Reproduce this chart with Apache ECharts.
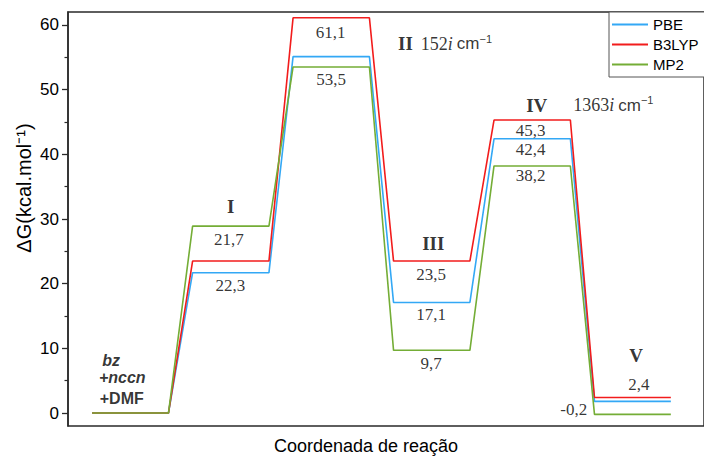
<!DOCTYPE html>
<html>
<head>
<meta charset="utf-8">
<script src="https://cdn.jsdelivr.net/npm/echarts@6/dist/echarts.min.js"></script>
<style>
html,body{margin:0;padding:0;background:#fff;}
#chart{width:704px;height:457px;}
</style>
</head>
<body>
<div id="chart"></div>
<script>
// ---- data ----
var states = ['R', 'I', 'II', 'III', 'IV', 'V'];
var seriesNames = ['PBE', 'B3LYP', 'MP2'];
var pbe   = [0, 21.7, 55.1, 17.1, 42.4, 1.8];
var b3lyp = [0, 23.5, 61.1, 23.5, 45.3, 2.4];
var mp2   = [0, 28.9, 53.5, 9.7, 38.2, -0.2];
var yTickLabels = [0, 10, 20, 30, 40, 50, 60];
var yMinorTicks = [5, 15, 25, 35, 45, 55];
var valueTexts = ['21,7', '22,3', '61,1', '53,5', '23,5', '17,1', '9,7', '45,3', '42,4', '38,2', '2,4', '-0,2'];
var stateTexts = ['I', 'III', 'V'];
var freqTexts = [['II', '152'], ['IV', '1363']];
var reactantTexts = ['bz', 'nccn', 'DMF'];

// ---- layout (positions in data coordinates) ----
var valuePos = [[0.98, 26.8], [0.995, 19.7], [1.995, 58.9], [2.0, 51.6], [2.995, 21.4], [2.995, 15.2],
                [2.995, 7.6], [3.985, 43.7], [3.985, 40.8], [3.985, 36.8], [5.063, 4.44], [4.413, 0.57]];
var statePos = [[1.0, 31.9], [3.015, 26.2], [5.034, 8.96]];
var freqPos = [[2.665, 57.1], [3.94, 47.6]];
var freqGap = [8, 26];
var reactantPos = [[-0.19, 8.2], [-0.08, 5.5], [-0.085, 2.27]];
var halfW = 0.38;

var colors = ['#33a8f5', '#f21c1c', '#74ad36'];
var serif = '"Liberation Serif", "Times New Roman", serif';
var sans = '"Liberation Sans", Arial, sans-serif';
var ink = '#000';

function levels(vals) {
  var pts = [];
  vals.forEach(function (v, i) {
    pts.push([i - halfW, v]);
    pts.push([i + halfW, v]);
  });
  return pts;
}

var lineSeries = [pbe, b3lyp, mp2].map(function (vals, k) {
  return {
    name: seriesNames[k],
    type: 'line',
    data: levels(vals),
    symbol: 'none',
    silent: true,
    lineStyle: { color: colors[k], width: 1.6 },
    itemStyle: { color: colors[k] },
    z: 2 + k
  };
});

var annData = [];
valueTexts.forEach(function (t, i) {
  annData.push({ value: valuePos[i], label: { formatter: t, fontFamily: serif, fontSize: 17, color: ink } });
});
stateTexts.forEach(function (t, i) {
  annData.push({ value: statePos[i], label: { formatter: t, fontFamily: serif, fontSize: 19, fontWeight: 'bold', color: ink } });
});
freqTexts.forEach(function (f, i) {
  annData.push({
    value: freqPos[i],
    label: {
      formatter: '{s|' + f[0] + '}{n|' + f[1] + '}{it|i}{u|cm}{sup|\u22121}',
      align: 'left',
      rich: {
        s: { fontFamily: serif, fontSize: 19, fontWeight: 'bold', color: ink, padding: [0, freqGap[i], 0, 0] },
        n: { fontFamily: serif, fontSize: 18, color: ink },
        it: { fontFamily: serif, fontSize: 18, fontStyle: 'italic', color: ink, padding: [0, 4, 0, 0] },
        u: { fontFamily: sans, fontSize: 17, color: ink },
        sup: { fontFamily: sans, fontSize: 11, color: ink, padding: [0, 0, 10, 0] }
      }
    }
  });
});
annData.push({ value: reactantPos[0], label: { formatter: reactantTexts[0], fontFamily: sans, fontSize: 16, fontWeight: 'bold', fontStyle: 'italic', color: ink } });
annData.push({ value: reactantPos[1], label: { formatter: '+' + reactantTexts[1], fontFamily: sans, fontSize: 16, fontWeight: 'bold', fontStyle: 'italic', color: ink } });
annData.push({ value: reactantPos[2], label: { formatter: '+' + reactantTexts[2], fontFamily: sans, fontSize: 16, fontWeight: 'bold', color: ink } });

var chart = echarts.init(document.getElementById('chart'), null, { renderer: 'svg' });
chart.setOption({
  animation: false,
  backgroundColor: '#fff',
  grid: { left: 68, top: 12, bottom: 31, right: -10, show: true, borderColor: '#2a2a2a', borderWidth: 1.5, backgroundColor: 'transparent' },
  legend: {
    data: seriesNames.map(function (n) { return { name: n, icon: 'rect' }; }),
    orient: 'vertical',
    left: 609, top: 12,
    padding: [5, 40, 5, 3],
    itemWidth: 36, itemHeight: 2, itemGap: 5,
    borderColor: '#555', borderWidth: 1,
    backgroundColor: '#fff',
    textStyle: { fontFamily: sans, fontSize: 15, color: ink, lineHeight: 14.5 }
  },
  xAxis: {
    type: 'value', min: -0.62, max: 5.71,
    axisLine: { show: false }, axisTick: { show: false }, axisLabel: { show: false }, splitLine: { show: false }
  },
  yAxis: [{
    type: 'value', min: -2, max: 62,
    axisLine: { show: true, onZero: false, lineStyle: { color: '#2a2a2a', width: 1.5 } },
    axisTick: { show: true, length: 6, customValues: yTickLabels, lineStyle: { color: '#2a2a2a', width: 1.3 } },
    axisLabel: { customValues: yTickLabels, margin: 9, fontFamily: sans, fontSize: 17, color: ink },
    splitLine: { show: false }
  }, {
    type: 'value', min: -2, max: 62, position: 'left',
    axisLine: { show: false, onZero: false },
    axisTick: { show: true, length: 3.5, customValues: yMinorTicks, lineStyle: { color: '#2a2a2a', width: 1.2 } },
    axisLabel: { show: false },
    splitLine: { show: false }
  }],
  graphic: [
    { type: 'text', x: 24, y: 188, rotation: Math.PI / 2,
      style: { text: '\u0394G(kcal.mol\u207B\u00B9)', font: '20px ' + sans, fill: ink, textAlign: 'center', textVerticalAlign: 'middle' } },
    { type: 'text', x: 366, y: 446,
      style: { text: 'Coordenada de rea\u00E7\u00E3o', font: '18px ' + sans, fill: ink, textAlign: 'center', textVerticalAlign: 'middle' } }
  ],
  series: lineSeries.concat([{
    type: 'scatter', silent: true, symbolSize: 0, z: 10,
    data: annData,
    label: { show: true, position: 'inside' }
  }])
});
</script>
</body>
</html>
